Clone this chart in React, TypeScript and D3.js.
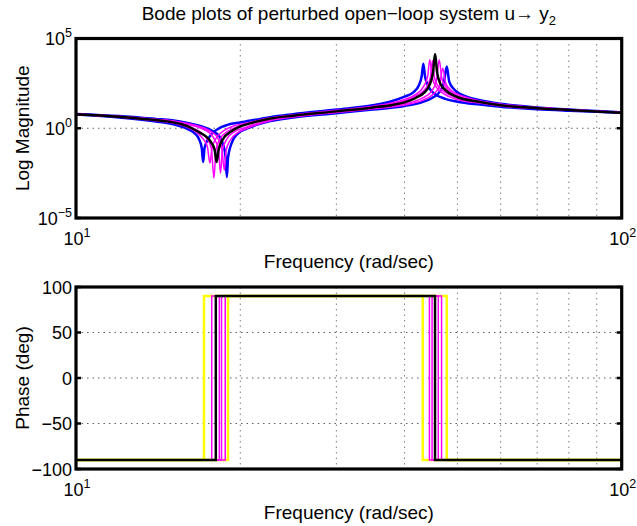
import React from "react";
import * as d3 from "d3";

const W = 637;
const H = 526;
const FONT = "'Liberation Sans', Arial, Helvetica, sans-serif";

const magBox = { left: 76, right: 621.7, top: 38.5, bottom: 218 };
const phaseBox = { left: 76, right: 621.7, top: 287, bottom: 469 };

// magnitude curves, [frequency rad/s, log10 |G|]
const magNominal = [
  [10, 0.78], [12, 0.64], [14, 0.46], [15, 0.34], [16, 0.12], [16.8, -0.22], [17.3, -0.45],
  [17.7, -0.8], [17.95, -1.2], [18.1, -1.88], [18.25, -1.2], [18.6, -0.6], [19.2, -0.2],
  [20, 0.1], [21, 0.3], [22.7, 0.54], [25, 0.7], [30, 0.94], [35, 1.16], [38, 1.3],
  [40, 1.44], [42, 1.7], [43.5, 2.0], [44.5, 2.44], [45.1, 3.1], [45.5, 4.14], [45.9, 3.1],
  [46.5, 2.5], [47.5, 2.14], [50, 1.74], [55, 1.46], [60, 1.28], [70, 1.12], [80, 1.02],
  [90, 0.94], [100, 0.86],
];

const magBlueLow = [
  [10, 0.76], [12, 0.6], [14, 0.38], [15, 0.24], [16, -0.04], [16.5, -0.28], [16.8, -0.6],
  [17.0, -1.1], [17.1, -1.88], [17.2, -1.1], [17.6, -0.44], [18.2, -0.04], [19, 0.2],
  [20, 0.32], [22.7, 0.62], [25, 0.78], [30, 1.04], [35, 1.28], [38, 1.52], [40, 1.76],
  [41.5, 2.0], [42.5, 2.4], [43.0, 2.9], [43.3, 3.6], [43.6, 2.9], [44.3, 2.3], [45.5, 1.9],
  [47.5, 1.64], [50, 1.48], [55, 1.32], [60, 1.2], [70, 1.06], [80, 0.98], [90, 0.92], [100, 0.86],
];

const magBlueHigh = [
  [10, 0.8], [12, 0.68], [14, 0.52], [15, 0.44], [16, 0.3], [17, 0.1], [17.8, -0.16],
  [18.3, -0.44], [18.6, -0.9], [18.8, -1.6], [18.9, -2.72], [19.0, -1.6], [19.3, -0.8],
  [19.8, -0.3], [20.5, -0.04], [21.5, 0.2], [22.7, 0.4], [25, 0.6], [30, 0.84], [35, 1.04],
  [40, 1.24], [43, 1.44], [45, 1.7], [46.3, 2.0], [47.2, 2.5], [47.8, 3.44], [48.3, 2.6],
  [49.2, 2.2], [50, 2.0], [52, 1.76], [55, 1.56], [60, 1.36], [70, 1.16], [80, 1.04],
  [90, 0.96], [100, 0.88],
];

const magMagenta1 = [
  [10, 0.77], [12, 0.62], [14, 0.42], [15, 0.3], [16, 0.06], [16.6, -0.2], [17.0, -0.5],
  [17.4, -1.0], [17.6, -1.94], [17.75, -1.1], [18.1, -0.52], [18.7, -0.12], [19.5, 0.14],
  [20.5, 0.28], [22.7, 0.58], [25, 0.74], [30, 1.0], [35, 1.22], [40, 1.6], [42, 1.9],
  [43.3, 2.3], [44.1, 2.9], [44.5, 3.82], [44.9, 2.9], [45.7, 2.3], [47, 1.96], [50, 1.6],
  [55, 1.4], [60, 1.24], [70, 1.1], [80, 1.0], [90, 0.94], [100, 0.86],
];

const magMagenta2 = [
  [10, 0.78], [12, 0.63], [14, 0.44], [15, 0.34], [16, 0.12], [16.8, -0.16], [17.3, -0.5],
  [17.7, -1.1], [17.9, -2.78], [18.05, -1.2], [18.4, -0.56], [19, -0.16], [20, 0.14],
  [22.7, 0.56], [25, 0.72], [30, 0.96], [35, 1.2], [40, 1.52], [42, 1.8], [43.7, 2.2],
  [44.6, 2.8], [45.0, 3.76], [45.4, 2.8], [46.2, 2.3], [47.5, 2.0], [50, 1.68], [55, 1.44],
  [60, 1.26], [70, 1.11], [80, 1.01], [90, 0.94], [100, 0.86],
];

const magMagenta3 = [
  [10, 0.79], [12, 0.66], [14, 0.49], [15, 0.4], [16, 0.22], [17, -0.02], [17.6, -0.28],
  [18.0, -0.7], [18.25, -1.2], [18.4, -2.5], [18.55, -1.2], [18.9, -0.6], [19.5, -0.2],
  [20.5, 0.06], [22.7, 0.46], [25, 0.66], [30, 0.9], [35, 1.12], [40, 1.36], [43, 1.66],
  [44.8, 2.04], [45.8, 2.7], [46.3, 3.82], [46.8, 2.8], [47.6, 2.3], [49, 1.96], [52, 1.64],
  [55, 1.5], [60, 1.32], [70, 1.14], [80, 1.03], [90, 0.95], [100, 0.87],
];

const magMagenta4 = [
  [10, 0.8], [12, 0.67], [14, 0.5], [15, 0.42], [16, 0.26], [17, 0.06], [17.7, -0.2],
  [18.2, -0.56], [18.5, -1.1], [18.7, -2.34], [18.85, -1.2], [19.2, -0.64], [19.8, -0.24],
  [20.7, 0.02], [22.7, 0.42], [25, 0.62], [30, 0.88], [35, 1.08], [40, 1.3], [43, 1.54],
  [45, 1.86], [46.3, 2.3], [47.0, 3.34], [47.6, 2.5], [48.5, 2.16], [50, 1.9], [52, 1.72],
  [55, 1.52], [60, 1.34], [70, 1.15], [80, 1.04], [90, 0.96], [100, 0.88],
];

// phase curves, [frequency rad/s, degrees]
const phaseYellowLow = [[10, -90], [17.16, -90], [17.16, 90], [43.2, 90], [43.2, -90], [100, -90]];
const phaseYellowHigh = [[10, -90], [18.99, -90], [18.99, 90], [47.8, 90], [47.8, -90], [100, -90]];
const phaseMagenta1 = [[10, -90], [17.73, -90], [17.73, 90], [44.43, 90], [44.43, -90], [100, -90]];
const phaseMagenta2 = [[10, -90], [18.31, -90], [18.31, 90], [44.93, 90], [44.93, -90], [100, -90]];
const phaseMagenta3 = [[10, -90], [18.48, -90], [18.48, 90], [46.12, 90], [46.12, -90], [100, -90]];
const phaseMagenta4 = [[10, -90], [18.77, -90], [18.77, 90], [46.76, 90], [46.76, -90], [100, -90]];
const phaseNominal = [[10, -90], [18.04, -90], [18.04, 90], [45.49, 90], [45.49, -90], [100, -90]];

const minorFreqs = [20, 30, 40, 50, 60, 70, 80, 90];
const magTickExps = [-5, 0, 5];
const phaseTicks = [-100, -50, 0, 50, 100];
const freqTickExps = [1, 2];

const x = d3.scaleLog().domain([10, 100]).range([magBox.left, magBox.right]);
const yMag = d3.scaleLog().domain([1e-5, 1e5]).range([magBox.bottom, magBox.top]);
const yPhase = d3.scaleLinear().domain([-100, 100]).range([phaseBox.bottom, phaseBox.top]);

const magLine = d3
  .line<number[]>()
  .x((d) => x(d[0]))
  .y((d) => yMag(Math.pow(10, d[1])))
  .curve(d3.curveMonotoneX);

const phaseLine = d3
  .line<number[]>()
  .x((d) => x(d[0]))
  .y((d) => yPhase(d[1]));

function Frame({ box, yTicks, yFn, yLabel, yLabelPow, hGrid, clipId, children, axisLabel, title }) {
  return (
    <g>
      <defs>
        <clipPath id={clipId}>
          <rect x={box.left} y={box.top} width={box.right - box.left} height={box.bottom - box.top} />
        </clipPath>
      </defs>
      {/* grid */}
      {minorFreqs.map((f) => (
        <line key={"v" + f} x1={x(f)} x2={x(f)} y1={box.top} y2={box.bottom}
          stroke="#808080" strokeWidth={1} strokeDasharray="1.5,4" />
      ))}
      {hGrid.map((v) => (
        <line key={"h" + v} x1={box.left} x2={box.right} y1={yFn(v)} y2={yFn(v)}
          stroke="#606060" strokeWidth={1} strokeDasharray="1.5,4" />
      ))}
      <g clipPath={`url(#${clipId})`}>{children}</g>
      {/* y ticks */}
      {yTicks.map((v) => (
        <g key={"t" + v}>
          <line x1={box.left} x2={box.left + 5} y1={yFn(v)} y2={yFn(v)} stroke="#000" strokeWidth={2.5} />
          <line x1={box.right - 5} x2={box.right} y1={yFn(v)} y2={yFn(v)} stroke="#000" strokeWidth={2.5} />
          {yLabelPow ? (
            <text x={box.left - 4} y={yFn(v) + 6.5} textAnchor="end" fontSize={18}>
              10<tspan dy={-8} fontSize={12.5}>{yLabel(v)}</tspan>
            </text>
          ) : (
            <text x={box.left - 4} y={yFn(v) + 6.5} textAnchor="end" fontSize={18}>
              {yLabel(v)}
            </text>
          )}
        </g>
      ))}
      <rect x={box.left} y={box.top} width={box.right - box.left} height={box.bottom - box.top}
        fill="none" stroke="#000" strokeWidth={3.2} />
      {/* x tick labels */}
      {freqTickExps.map((e) => (
        <text key={"x" + e} x={x(Math.pow(10, e)) + 1} y={box.bottom + 27} textAnchor="middle" fontSize={18}>
          10<tspan dy={-8} fontSize={12.5}>{e}</tspan>
        </text>
      ))}
      <text x={(box.left + box.right) / 2} y={box.bottom + 50} textAnchor="middle" fontSize={19}>
        {axisLabel}
      </text>
      <text transform={`translate(29,${(box.top + box.bottom) / 2}) rotate(-90)`} textAnchor="middle" fontSize={19}>
        {title}
      </text>
    </g>
  );
}

export default function App() {
  const magBlue = [magBlueLow, magBlueHigh];
  const magMagenta = [magMagenta1, magMagenta2, magMagenta3, magMagenta4];
  const phaseYellow = [phaseYellowLow, phaseYellowHigh];
  const phaseMagenta = [phaseMagenta1, phaseMagenta2, phaseMagenta3, phaseMagenta4];

  return (
    <svg width={W} height={H} style={{ position: "absolute", left: 0, top: 0, background: "#fff" }}
      fontFamily={FONT}>
      <rect width={W} height={H} fill="#fff" />
      <text x={(magBox.left + magBox.right) / 2} y={20} textAnchor="middle" fontSize={19}>
        Bode plots of perturbed open−loop system u→ y<tspan dy={5} fontSize={13}>2</tspan>
      </text>

      <Frame box={magBox} yTicks={magTickExps} yFn={(e) => yMag(Math.pow(10, e))}
        yLabel={(e) => (e < 0 ? "−" + Math.abs(e) : String(e))} yLabelPow hGrid={[0]}
        clipId="clipMag" axisLabel="Frequency (rad/sec)" title="Log Magnitude">
        {magBlue.map((c, i) => (
          <path key={"b" + i} d={magLine(c)} fill="none" stroke="#0000ff" strokeWidth={2.5} />
        ))}
        {magMagenta.map((c, i) => (
          <path key={"m" + i} d={magLine(c)} fill="none" stroke="#ff00ff" strokeWidth={1.5} />
        ))}
        <path d={magLine(magNominal)} fill="none" stroke="#000" strokeWidth={2.5} />
      </Frame>

      <Frame box={phaseBox} yTicks={phaseTicks} yFn={(v) => yPhase(v)}
        yLabel={(v) => (v < 0 ? "−" + Math.abs(v) : String(v))} yLabelPow={false} hGrid={[-50, 0, 50]}
        clipId="clipPhase" axisLabel="Frequency (rad/sec)" title="Phase (deg)">
        {phaseYellow.map((c, i) => (
          <path key={"y" + i} d={phaseLine(c)} fill="none" stroke="#ffff00" strokeWidth={2.5} />
        ))}
        {phaseMagenta.map((c, i) => (
          <path key={"pm" + i} d={phaseLine(c)} fill="none" stroke="#ff00ff" strokeWidth={1.5} />
        ))}
        <path d={phaseLine(phaseNominal)} fill="none" stroke="#000" strokeWidth={2.5} />
      </Frame>
    </svg>
  );
}
